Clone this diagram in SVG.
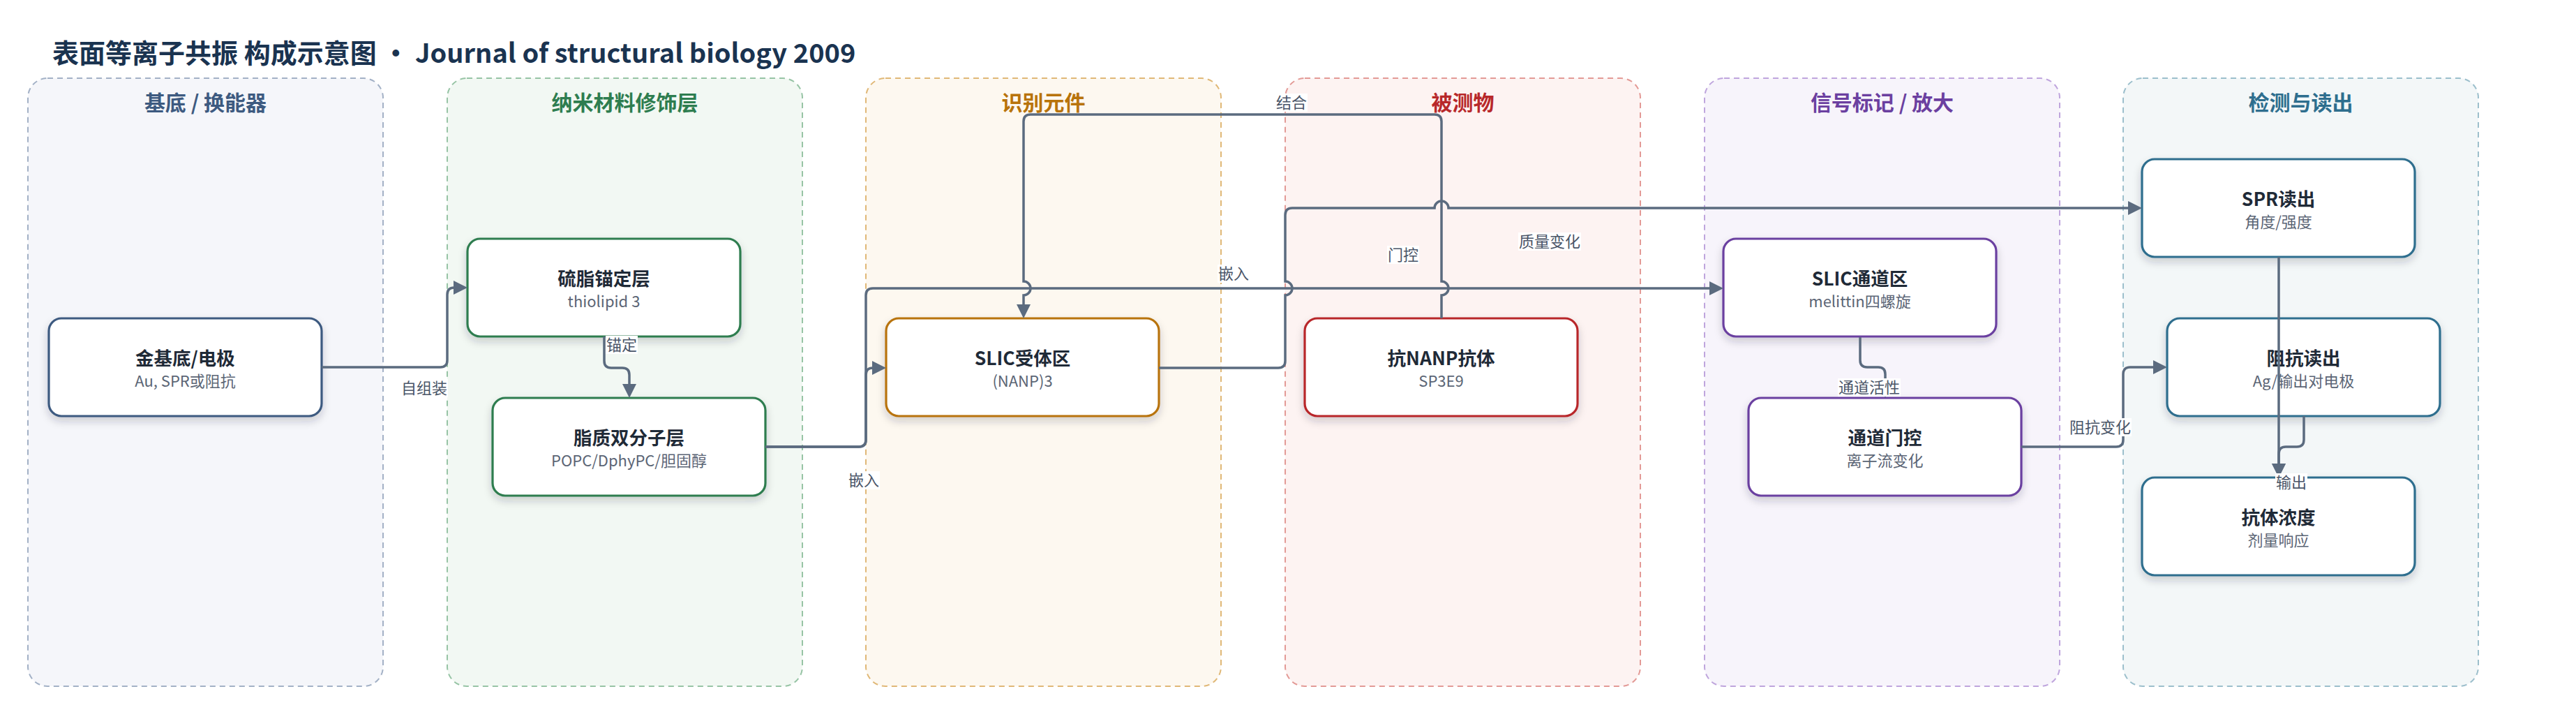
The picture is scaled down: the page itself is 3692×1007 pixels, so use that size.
<svg xmlns="http://www.w3.org/2000/svg" width="3692" height="1007" viewBox="0 0 3692 1007">
<defs>
<style>
text{font-family:"Noto Sans CJK SC","Noto Sans",sans-serif}
.lane{stroke-width:2;stroke-dasharray:8 6}
.lt{font-size:30px;font-weight:700;text-anchor:middle}
.node rect{fill:#fff;stroke-width:3.2;filter:url(#sh)}
.nt{font-size:26.5px;font-weight:700;fill:#1f2a37;text-anchor:middle}
.ns{font-size:22px;fill:#5b6575;text-anchor:middle}
.edge{fill:none;stroke:#5b6b7f;stroke-width:3.5;marker-end:url(#arr)}
.lb rect{fill:#fff}
.lb text{font-size:22px;fill:#4a5568;text-anchor:middle}
</style>
<filter id="sh" x="-10%" y="-20%" width="120%" height="150%">
<feDropShadow dx="0" dy="6" stdDeviation="6" flood-color="#1e293b" flood-opacity="0.2"/>
</filter>
<marker id="arr" markerUnits="userSpaceOnUse" viewBox="0 0 20 20" markerWidth="20" markerHeight="20" refX="10" refY="10" orient="auto">
<path d="M0,0 L20,10 L0,20 z" fill="#5b6b7f"/>
</marker>
</defs>
<rect width="3692" height="1007" fill="#fff"/>

<g id="lanes">
<g id="lane-substrate"><rect class="lane" x="40" y="112" width="509" height="871" rx="28" fill="#f5f6fa" stroke="#a3b1c6"/><text class="lt" x="294.5" y="158" fill="#3d5a80">基底 / 换能器</text></g>
<g id="lane-nano"><rect class="lane" x="641" y="112" width="509" height="871" rx="28" fill="#f2f8f3" stroke="#97c4a5"/><text class="lt" x="895.5" y="158" fill="#2e7d4f">纳米材料修饰层</text></g>
<g id="lane-recog"><rect class="lane" x="1241" y="112" width="509" height="871" rx="28" fill="#fdf8f0" stroke="#e0b877"/><text class="lt" x="1495.5" y="158" fill="#b8730a">识别元件</text></g>
<g id="lane-analyte"><rect class="lane" x="1842" y="112" width="509" height="871" rx="28" fill="#fdf3f2" stroke="#e39a96"/><text class="lt" x="2096.5" y="158" fill="#b8282a">被测物</text></g>
<g id="lane-signal"><rect class="lane" x="2443" y="112" width="509" height="871" rx="28" fill="#f7f4fb" stroke="#bfa5dd"/><text class="lt" x="2697.5" y="158" fill="#6b3fa0">信号标记 / 放大</text></g>
<g id="lane-readout"><rect class="lane" x="3043" y="112" width="509" height="871" rx="28" fill="#f3f7f8" stroke="#9cbfcc"/><text class="lt" x="3297.5" y="158" fill="#2e6e8e">检测与读出</text></g>
</g>

<text x="75" y="90" font-size="38" font-weight="700" fill="#1a3350">表面等离子共振 构成示意图 · Journal of structural biology 2009</text>

<g id="nodes">
<g id="n-gold" class="node"><rect x="70" y="456" width="391" height="140" rx="18" stroke="#3d5a80"/><text class="nt" x="265.5" y="523">金基底/电极</text><text class="ns" x="265.5" y="554">Au, SPR或阻抗</text></g>
<g id="n-thiolipid" class="node"><rect x="670" y="342" width="391" height="140" rx="18" stroke="#2e7d4f"/><text class="nt" x="865.5" y="409">硫脂锚定层</text><text class="ns" x="865.5" y="440">thiolipid 3</text></g>
<g id="n-bilayer" class="node"><rect x="706" y="570" width="391" height="140" rx="18" stroke="#2e7d4f"/><text class="nt" x="901.5" y="637">脂质双分子层</text><text class="ns" x="901.5" y="668">POPC/DphyPC/胆固醇</text></g>
<g id="n-receptor" class="node"><rect x="1270" y="456" width="391" height="140" rx="18" stroke="#b8730a"/><text class="nt" x="1465.5" y="523">SLIC受体区</text><text class="ns" x="1465.5" y="554">(NANP)3</text></g>
<g id="n-antibody" class="node"><rect x="1870" y="456" width="391" height="140" rx="18" stroke="#b8282a"/><text class="nt" x="2065.5" y="523">抗NANP抗体</text><text class="ns" x="2065.5" y="554">SP3E9</text></g>
<g id="n-channel" class="node"><rect x="2470" y="342" width="391" height="140" rx="18" stroke="#6b3fa0"/><text class="nt" x="2665.5" y="409">SLIC通道区</text><text class="ns" x="2665.5" y="440">melittin四螺旋</text></g>
<g id="n-gating" class="node"><rect x="2506" y="570" width="391" height="140" rx="18" stroke="#6b3fa0"/><text class="nt" x="2701.5" y="637">通道门控</text><text class="ns" x="2701.5" y="668">离子流变化</text></g>
<g id="n-spr" class="node"><rect x="3070" y="228" width="391" height="140" rx="18" stroke="#2e6e8e"/><text class="nt" x="3265.5" y="295">SPR读出</text><text class="ns" x="3265.5" y="326">角度/强度</text></g>
<g id="n-imp" class="node"><rect x="3106" y="456" width="391" height="140" rx="18" stroke="#2e6e8e"/><text class="nt" x="3301.5" y="523">阻抗读出</text><text class="ns" x="3301.5" y="554">Ag/输出对电极</text></g>
<g id="n-conc" class="node"><rect x="3070" y="684" width="391" height="140" rx="18" stroke="#2e6e8e"/><text class="nt" x="3265.5" y="751">抗体浓度</text><text class="ns" x="3265.5" y="782">剂量响应</text></g>
</g>

<g id="connectors">
<path class="edge" d="M461,526 H631 Q641,526 641,516 V422 Q641,412 651,412 H660"/>
<path class="edge" d="M866,482 V517 Q866,527 876,527 H892 Q902,527 902,537 V560"/>
<path class="edge" d="M1097,640 H1231 Q1241,640 1241,630 V423 Q1241,413 1251,413 H2460"/>
<path class="edge" d="M1097,640 H1231 Q1241,640 1241,630 V537 Q1241,527 1251,527 H1260"/>
<path class="edge" d="M2066,456 V423 A10,10 0 0 0 2066,403 V174 Q2066,164 2056,164 H1477 Q1467,164 1467,174 V403 A10,10 0 0 1 1467,423 V446"/>
<path class="edge" d="M1661,527 H1832 Q1842,527 1842,517 V423 A10,10 0 0 0 1842,403 V308 Q1842,298 1852,298 H2056 A10,10 0 0 1 2076,298 H3060"/>
<path class="edge" d="M2666,483 V516 Q2666,526 2676,526 H2692 Q2702,526 2702,536 V560"/>
<path class="edge" d="M2897,640 H3033 Q3043,640 3043,630 V536 Q3043,526 3053,526 H3096"/>
<path class="edge" d="M3266,368 V674"/>
<path class="edge" d="M3302,596 V630 Q3302,640 3292,640 H3276 Q3266,640 3266,650 V674"/>
</g>

<g id="edge-labels">
<g class="lb"><rect x="574" y="543" width="68" height="26"/><text x="608" y="564">自组装</text></g>
<g class="lb"><rect x="868" y="481" width="46" height="26"/><text x="891" y="502">锚定</text></g>
<g class="lb"><rect x="1215" y="675" width="46" height="26"/><text x="1238" y="696">嵌入</text></g>
<g class="lb"><rect x="1745" y="379" width="46" height="26"/><text x="1768" y="400">嵌入</text></g>
<g class="lb"><rect x="1828" y="134" width="46" height="26"/><text x="1851" y="155">结合</text></g>
<g class="lb"><rect x="1988" y="352" width="46" height="26"/><text x="2011" y="373">门控</text></g>
<g class="lb"><rect x="2176" y="333" width="90" height="26"/><text x="2221" y="354">质量变化</text></g>
<g class="lb"><rect x="2634" y="542" width="90" height="26"/><text x="2679" y="563">通道活性</text></g>
<g class="lb"><rect x="2965" y="599" width="90" height="26"/><text x="3010" y="620">阻抗变化</text></g>
<g class="lb"><rect x="3261" y="678" width="46" height="26"/><text x="3284" y="699">输出</text></g>
</g>
</svg>
